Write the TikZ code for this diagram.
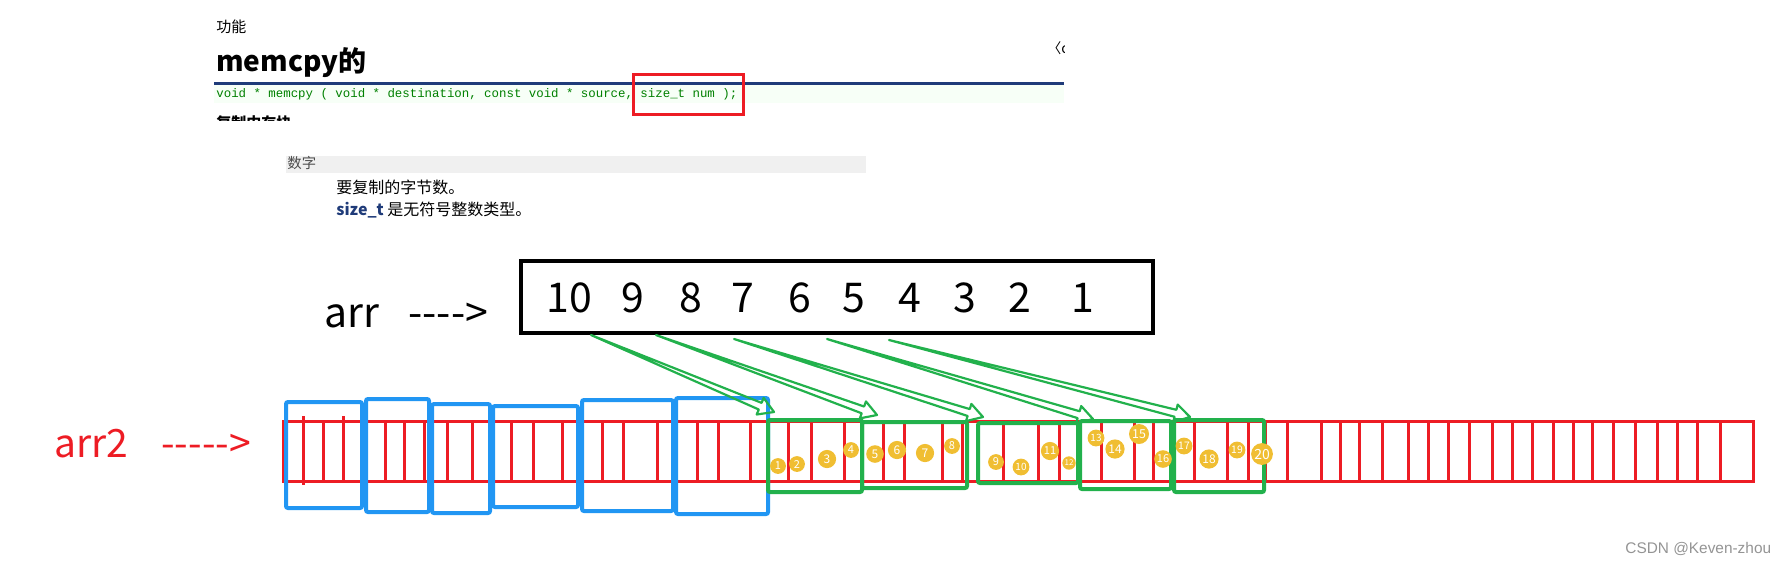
\documentclass[tikz,border=0pt]{standalone}
\usepackage{fontspec}
\setmainfont{Noto Sans CJK SC}
\newfontfamily\plainfont{Noto Sans CJK SC}
\newfontfamily\codefont{Liberation Mono}
\newfontfamily\markfont{Liberation Sans}
\usetikzlibrary{arrows.meta,positioning,calc}

\definecolor{paintred}{RGB}{237,28,36}
\definecolor{paintgreen}{RGB}{34,177,76}
\definecolor{paintblue}{RGB}{33,150,243}
\definecolor{ballyellow}{RGB}{240,190,50}
\definecolor{rulenavy}{RGB}{31,59,121}
\definecolor{codegreen}{RGB}{0,128,0}
\definecolor{bandgray}{RGB}{240,240,240}

\begin{document}
\begin{tikzpicture}[
  x=0.5pt, y=-0.5pt,
  label/.style={inner sep=0pt, anchor=base west},
  num/.style={inner sep=0pt, anchor=base, font=\fontsize{20.5}{24}\selectfont},
  arrframe/.style={draw=black, line width=2.25pt, minimum width=316pt, minimum height=36pt, inner sep=0pt},
  cellline/.style={draw=paintred, line width=1.5pt},
  bluegrp/.style={draw=paintblue, line width=2pt, rounded corners=1pt},
  greengrp/.style={draw=paintgreen, line width=2pt, rounded corners=1pt},
  ball/.style={circle, fill=ballyellow, text=white, inner sep=0pt},
  copyarrow/.style={draw=paintgreen, line width=1.1pt, line join=round,
    to path={-- ($(\tikztotarget)!7.5pt!(\tikztostart)!1.8pt!90:(\tikztotarget)$)
             -- ($(\tikztotarget)!7.5pt!(\tikztostart)!4.5pt!90:(\tikztotarget)$)
             -- (\tikztotarget)
             -- ($(\tikztotarget)!7.5pt!(\tikztostart)!4.5pt!-90:(\tikztotarget)$)
             -- ($(\tikztotarget)!7.5pt!(\tikztostart)!1.8pt!-90:(\tikztotarget)$)
             -- cycle}},
]
\useasboundingbox (0,0) rectangle (1781,563);

% screenshot of the reference page
\node[label, font=\fontsize{7.5}{8}\selectfont] (gongneng) at (216,32) {功能};
\node[label, font=\bfseries\fontsize{14}{16}\selectfont] (title) at (216,71) {memcpy的};
\begin{scope}
  \clip (1040,30) rectangle (1064,60);
  \node[label, font=\fontsize{7}{8}\selectfont] (nav) at (1047,53) {〈c};
\end{scope}
\fill[green!3] (214,85) rectangle (1064,103);
\draw[rulenavy, line width=1.5pt] (214,83) -- (1064,83);
\node[label, font=\codefont\fontsize{6.2}{7}\selectfont, text=codegreen] (proto) at (216,97)
  {void * memcpy ( void * destination, const void * source, size\_t num );};
\node[draw=paintred, line width=1.5pt, minimum width=55pt, minimum height=20pt, inner sep=0pt] (numbox) at (688,94) {};
\begin{scope}
  \clip (200,110) rectangle (400,120);
  \node[label, font=\bfseries\fontsize{7.5}{8}\selectfont] (brief) at (216,128) {复制内存块};
\end{scope}

\fill[bandgray] (286,156) rectangle (866,173);
\node[label, font=\fontsize{7.2}{8}\selectfont, text=black!70] (param) at (287,168) {数字};
\node[label, font=\fontsize{8}{9}\selectfont] (desc1) at (336,193) {要复制的字节数。};
\node[label, font=\fontsize{8}{9}\selectfont] (desc2) at (336,215) {{\bfseries\color{rulenavy}size\_t} 是无符号整数类型。};

% source array
\node[arrframe] (arrbox) at (837,297) {};
\foreach \v/\x in {10/569,9/633,8/691,7/743,6/800,5/854,4/910,3/965,2/1020,1/1083}
  \node[num] (d\v) at (\x,312) {\v};
\node[label, font=\fontsize{20.5}{24}\selectfont] (arr) at (324,327) {arr};
\node[label, font=\plainfont\fontsize{20.5}{24}\selectfont] (arrptr) at (408,327) {---->};

% destination array
\node[label, font=\fontsize{19.5}{24}\selectfont, text=paintred] (arrtwo) at (54,457) {arr2};
\node[label, font=\plainfont\fontsize{19.5}{24}\selectfont, text=paintred] (arrtwoptr) at (161,457) {----->};
\draw[cellline] (283,421) rectangle (1753,481);
\foreach \x in {323,385,404,424,447,472,511,533,562,602,623,657,697,718,750,
                788,811,844,883,904,942,962,1003,1038,1059,1101,1134,1153,1194,1227,1248,
                1265,1287,1321,1340,1359,1382,1408,1428,1448,1469,1492,1512,1532,1553,
                1573,1592,1613,1635,1657,1677,1697,1720}
  \draw[cellline] (\x,421) -- (\x,481);
\draw[cellline] (303,416) -- (303,485);
\draw[cellline] (343,416) -- (343,481);

% groups of int already copied over
\foreach \l/\t/\r/\b in {286/402/362/508, 366/399/429/512, 432/404/490/513,
                         493/406/578/507, 582/400/673/511, 676/398/768/514}
  \draw[bluegrp] (\l,\t) rectangle (\r,\b);

% 20 bytes being copied
\foreach \l/\t/\r/\b in {768/420/862/492, 862/422/967/488, 978/423/1078/483,
                         1080/421/1171/489, 1174/420/1264/492}
  \draw[greengrp] (\l,\t) rectangle (\r,\b);

\foreach \n/\x/\y in {1/591/335, 2/656/335, 3/734/339, 4/827/339, 5/889/340}
  \coordinate (src\n) at (\x,\y);
\foreach \n/\x/\y in {1/774/412, 2/877/415, 3/983/417, 4/1093/419, 5/1190/417}
  \coordinate (dst\n) at (\x,\y);
\foreach \n in {1,...,5}
  \draw[copyarrow] (src\n) to (dst\n);

\foreach \n/\x/\y/\s/\f in {1/778/466/7.9/5.5, 2/797/464/7.9/5.5, 3/827/459/9.1/6,
    4/851/450/7.9/5.5, 5/875/454/8.8/6, 6/897/450/9.1/6, 7/925/453/9.1/6,
    8/952/446/7.9/5.5, 9/996/462/7.9/5.5, 10/1021/467/8.4/5, 11/1050/451/9.1/5.5,
    12/1069/463/6.7/4, 13/1096/438/8.4/5, 14/1115/449/9.6/6, 15/1139/434/10/6.2,
    16/1163/459/8.8/5.5, 17/1184/446/8.4/5.2, 18/1209/459/9.6/6, 19/1237/450/8.4/5.2,
    20/1262/454/10.9/7}
  \node[ball, minimum size=\s pt, font=\fontsize{\f}{\f}\selectfont] (c\n) at (\x,\y) {\n};

\node[label, font=\markfont\fontsize{7.7}{9}\selectfont, text=black!42] (mark) at (1625,553) {CSDN @Keven-zhou};
\end{tikzpicture}
\end{document}
